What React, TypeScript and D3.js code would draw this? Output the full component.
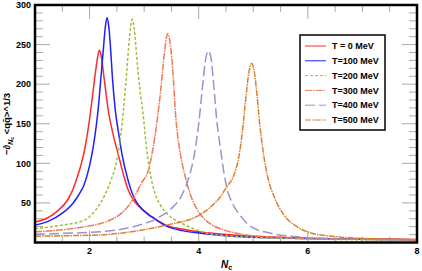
import React from "react";
import * as d3 from "d3";

const width = 422;
const height = 271;

// [Nc, value] pairs
const t0 = [[1, 26], [1.2, 30], [1.4, 39], [1.6, 54], [1.7, 68], [1.8, 88], [1.85, 100], [1.9, 114], [1.95, 133], [2, 156], [2.05, 183], [2.1, 211], [2.15, 235], [2.18, 243], [2.21, 237], [2.26, 211], [2.34, 168], [2.43, 137], [2.53, 110], [2.62, 86], [2.71, 66], [2.8, 54], [2.9, 46], [3, 40], [3.17, 31], [3.4, 22], [3.7, 17], [4, 13.5], [4.5, 10], [5, 8], [6, 5.5], [7, 4.5], [8, 3.8]];
const t100 = [[1, 22], [1.25, 27], [1.5, 37], [1.7, 50], [1.8, 60], [1.9, 73], [2, 97], [2.07, 122], [2.12, 146], [2.16, 170], [2.2, 202], [2.25, 242], [2.29, 273], [2.32, 284], [2.35, 274], [2.38, 250], [2.42, 207], [2.47, 168], [2.53, 139], [2.59, 113], [2.7, 80], [2.8, 59], [2.9, 47], [3.08, 35], [3.17, 31], [3.4, 21], [3.7, 15], [4, 12], [4.5, 8.5], [5, 6.5], [6, 5], [7, 4], [8, 3.5]];
const t200 = [[1, 17.5], [1.5, 22], [1.9, 28], [2.1, 40], [2.28, 60], [2.4, 80], [2.5, 104], [2.57, 135], [2.62, 167], [2.68, 215], [2.73, 258], [2.78, 282], [2.82, 270], [2.86, 238], [2.92, 195], [2.98, 163], [3.04, 122], [3.1, 92], [3.2, 62], [3.3, 47], [3.41, 37], [3.7, 24], [4, 15], [4.2, 11], [4.6, 8], [5, 6.5], [6, 4.5], [7, 3.5], [8, 3]];
const t300 = [[1, 13.5], [1.5, 16], [2, 21], [2.2, 24], [2.4, 29], [2.6, 38], [2.8, 55], [2.95, 75], [3.08, 92], [3.16, 118], [3.24, 155], [3.3, 190], [3.36, 232], [3.4, 255], [3.43, 264], [3.47, 255], [3.52, 222], [3.58, 158], [3.64, 122], [3.69, 102], [3.75, 84], [3.85, 60], [3.96, 43], [4.1, 30], [4.25, 22], [4.5, 15], [4.94, 9], [5.5, 6.5], [6, 5], [7, 4], [8, 3.5]];
const t400 = [[1, 10.3], [1.5, 11.5], [2.19, 13.6], [2.8, 20], [3.29, 32.6], [3.5, 43], [3.66, 56], [3.8, 78], [3.9, 104], [4, 150], [4.06, 190], [4.12, 228], [4.17, 242], [4.22, 235], [4.28, 195], [4.33, 155], [4.4, 118], [4.47, 85], [4.53, 65], [4.6, 52], [4.75, 35], [4.96, 20], [5.3, 12], [5.75, 7.5], [6.66, 4.5], [7.5, 3.5], [8, 3]];
const t500 = [[1, 8], [1.5, 8.5], [2.19, 9.5], [2.8, 14], [3.41, 22], [4.02, 35], [4.22, 45], [4.4, 58], [4.51, 70], [4.65, 86], [4.74, 110], [4.8, 140], [4.86, 180], [4.92, 215], [4.97, 226], [5.02, 215], [5.07, 185], [5.11, 155], [5.17, 120], [5.26, 84], [5.4, 55], [5.57, 34], [5.8, 20], [6.06, 12], [6.5, 7.5], [6.97, 5.3], [7.5, 4.2], [8, 3.5]];

const labels = ["T = 0 MeV", "T=100 MeV", "T=200 MeV", "T=300 MeV", "T=400 MeV", "T=500 MeV"];
const xMajor = [2, 4, 6, 8];
const yMajor = [50, 100, 150, 200, 250, 300];

const colors = ["#ff2a2a", "#1f1fff", "#9fbf3f", "#f07a5a", "#9b93cc", "#d9822b"];
const dashes = [null, null, "3,2", "7,1,1.5,1", "10,4", "6,1,1.5,1"];

const x = d3.scaleLinear().domain([1, 8]).range([35, 417]);
const y = d3.scaleLinear().domain([0, 300]).range([242.5, 5]);

const line = d3
  .line<number[]>()
  .x((d) => x(d[0]))
  .y((d) => y(d[1]))
  .curve(d3.curveMonotoneX);

const font = "'Liberation Sans', Arial, sans-serif";

const App = () => {
  const series = [t0, t100, t200, t300, t400, t500];
  const [x0, x1] = x.range();
  const [y0, y1] = y.range();
  const xMinor = d3.range(1.5, 8, 0.5).filter((v) => !xMajor.includes(v));
  const yMinor = d3.range(10, 300, 10).filter((v) => !yMajor.includes(v));
  const tickColor = "#aaa";

  return (
    <svg
      width={width}
      height={height}
      style={{ position: "absolute", left: 0, top: 0, background: "#fff" }}
      fontFamily={font}
    >
      <defs>
        <clipPath id="plot">
          <rect x={x0} y={y1} width={x1 - x0} height={y0 - y1} />
        </clipPath>
      </defs>

      {/* ticks on all four sides */}
      <g stroke={tickColor} strokeWidth={1}>
        {xMinor.map((v) => (
          <g key={"xm" + v}>
            <line x1={x(v)} x2={x(v)} y1={y0} y2={y0 - 6} />
            <line x1={x(v)} x2={x(v)} y1={y1} y2={y1 + 7} />
          </g>
        ))}
        {xMajor.map((v) => (
          <g key={"xM" + v}>
            <line x1={x(v)} x2={x(v)} y1={y0} y2={y0 - 12} />
            <line x1={x(v)} x2={x(v)} y1={y1} y2={y1 + 14} />
          </g>
        ))}
        {yMinor.map((v) => (
          <g key={"ym" + v}>
            <line x1={x0} x2={x0 + 8} y1={y(v)} y2={y(v)} />
            <line x1={x1} x2={x1 - 8} y1={y(v)} y2={y(v)} />
          </g>
        ))}
        {yMajor.map((v) => (
          <g key={"yM" + v}>
            <line x1={x0} x2={x0 + 15} y1={y(v)} y2={y(v)} />
            <line x1={x1} x2={x1 - 15} y1={y(v)} y2={y(v)} />
          </g>
        ))}
      </g>

      <g clipPath="url(#plot)" fill="none">
        {series.map((s, i) => (
          <path
            key={i}
            d={line(s) || ""}
            stroke={colors[i]}
            strokeWidth={1.5}
            strokeDasharray={dashes[i] || undefined}
          />
        ))}
      </g>

      <rect
        x={x0}
        y={y1}
        width={x1 - x0}
        height={y0 - y1}
        fill="none"
        stroke="#000"
        strokeWidth={2.5}
      />

      {/* tick labels */}
      <g fontSize={9} fontWeight="bold" fill="#000">
        {xMajor.map((v) => (
          <text key={v} x={x(v)} y={254} textAnchor="middle">
            {v}
          </text>
        ))}
        {yMajor.map((v) => (
          <text key={v} x={31} y={y(v) + 3.2} textAnchor="end">
            {v}
          </text>
        ))}
      </g>

      {/* axis labels */}
      <text x={221} y={268} fontSize={10} fontWeight="bold" fontStyle="italic">
        N
        <tspan fontSize={7} dy={2}>c</tspan>
      </text>
      <text
        transform="translate(10,124) rotate(-90)"
        textAnchor="middle"
        fontSize={9.5}
        fontWeight="bold"
      >
        −∂
        <tspan fontSize={7} fontStyle="italic" dy={2.5}>N</tspan>
        <tspan fontSize={5} dy={1}>c</tspan>
        <tspan dy={-3.5}> &lt;q{"q\u0304"}&gt;^1/3</tspan>
      </text>

      {/* legend */}
      <g>
        <rect x={300} y={35} width={85} height={95} fill="#fff" stroke="#000" strokeWidth={1.5} />
        {labels.map((l, i) => {
          const ly = 46 + i * 14.8;
          return (
            <g key={l}>
              <line
                x1={305}
                x2={326}
                y1={ly}
                y2={ly}
                stroke={colors[i]}
                strokeWidth={1}
                strokeDasharray={dashes[i] || undefined}
              />
              <text x={332} y={ly + 3.2} fontSize={9} fontWeight="bold">
                {l}
              </text>
            </g>
          );
        })}
      </g>
    </svg>
  );
};

export default App;
